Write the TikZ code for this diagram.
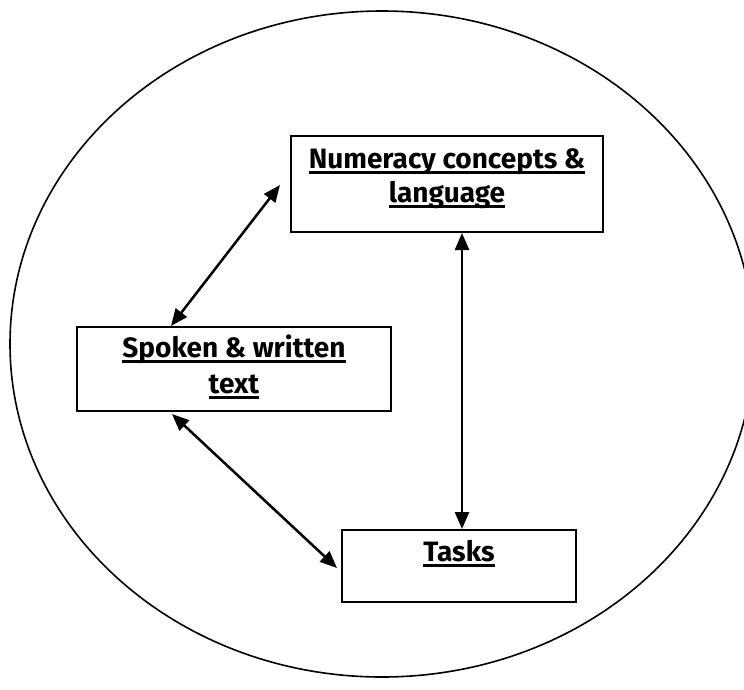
\documentclass[tikz,border=0pt]{standalone}
\usepackage{fontspec}
\setmainfont{Fira Sans}
\usetikzlibrary{arrows.meta,calc}
\newcommand\ulbox[1]{\setbox0=\hbox{#1}\rlap{\rule[-5.8pt]{\wd0}{3pt}}\box0}
\begin{document}
\begin{tikzpicture}[x=1pt,y=-1pt,
  box/.style={draw,line width=2pt,inner sep=0pt},
  lbl/.style={font=\fontsize{28}{34}\selectfont\bfseries,inner sep=0pt,anchor=base},
  arr/.style={line width=2.5pt,{Triangle[length=17pt,width=14pt]}-{Triangle[length=17pt,width=14pt]}}]
\useasboundingbox (0,0) rectangle (744,689);
\clip (0,0) rectangle (744,689);
\draw[line width=1.6pt] (382,344) ellipse [x radius=372, y radius=333];
\node[box,minimum width=312pt,minimum height=96pt] (num) at (447,184) {};
\node[box,minimum width=314pt,minimum height=84pt] (spk) at (234,369) {};
\node[box,minimum width=234pt,minimum height=72pt] (tsk) at (459,566) {};
\node[lbl] (numa) at (447,168) {\ulbox{Numeracy concepts \&}};
\node[lbl] (numb) at (447,202) {\ulbox{language}};
\node[lbl] (spka) at (234,357) {\ulbox{Spoken \& written}};
\node[lbl] (spkb) at (234,393) {\ulbox{text}};
\node[lbl] (tska) at (459,561) {\ulbox{Tasks}};
\coordinate (a1s) at (280,185);
\draw[arr] (a1s) -- ($(spk.north west)+(95,0)$);
\draw[arr] ($(num.south)+(15,0)$) -- ($(tsk.north)+(3,0)$);
\draw[arr] ($(spk.south west)+(96,2)$) -- ($(tsk.west)+(-4,2)$);
\end{tikzpicture}
\end{document}
